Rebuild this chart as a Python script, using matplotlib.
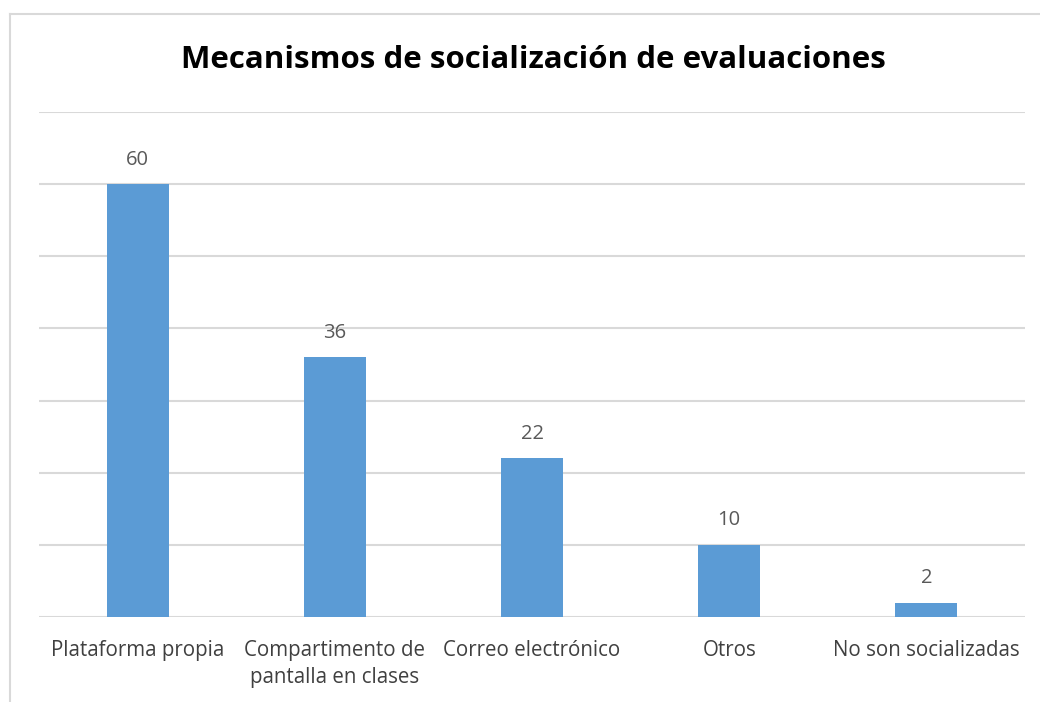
import matplotlib
matplotlib.use("Agg")
import matplotlib.pyplot as plt
from matplotlib.lines import Line2D

categories = ["Plataforma propia", "Compartimento de\npantalla en clases",
              "Correo electrónico", "Otros", "No son socializadas"]
values = [60, 36, 22, 10, 2]
title = "Mecanismos de socialización de evaluaciones"

plt.rcParams['font.family'] = ['Open Sans', 'DejaVu Sans']

W, H = 1040, 702
fig = plt.figure(figsize=(W / 100, H / 100), dpi=100)
ax = fig.add_axes([39 / W, 1 - 617 / H, (1025 - 39) / W, (617 - 112) / H])

x = list(range(len(categories)))
bars = ax.bar(x, values, width=0.315, color="#5b9bd5", zorder=3)
ax.set_xlim(-0.5, len(categories) - 0.5)
ax.set_ylim(0, 70)
ax.set_yticks(range(0, 71, 10))
ax.yaxis.grid(True, color="#d9d9d9", linewidth=1.5, zorder=0)
ax.tick_params(axis='y', left=False, labelleft=False)
ax.tick_params(axis='x', bottom=False, pad=13, labelsize=14.8, labelcolor="#404040")
ax.set_xticks(x)
ax.set_xticklabels(categories, linespacing=1.4, va='top')
for s in ax.spines.values():
    s.set_visible(False)

for b, v in zip(bars, values):
    ax.annotate(str(v), (b.get_x() + b.get_width() / 2, v), xytext=(0, 10.5),
                textcoords="offset points", ha="center", va="bottom",
                fontsize=14.5, color="#595959")

fig.text(0.513, 1 - 60 / H, title, ha="center", va="center",
         fontsize=22.5, fontweight="bold", color="#000000")

# outer chart border (partially cropped)
fig.add_artist(Line2D([9.5 / W, 9.5 / W], [0, 1 - 13.5 / H], transform=fig.transFigure,
                      color="#d9d9d9", linewidth=1.5))
fig.add_artist(Line2D([9.5 / W, 1], [1 - 13.5 / H, 1 - 13.5 / H], transform=fig.transFigure,
                      color="#d9d9d9", linewidth=1.5))

fig.savefig("out.png", dpi=100)
